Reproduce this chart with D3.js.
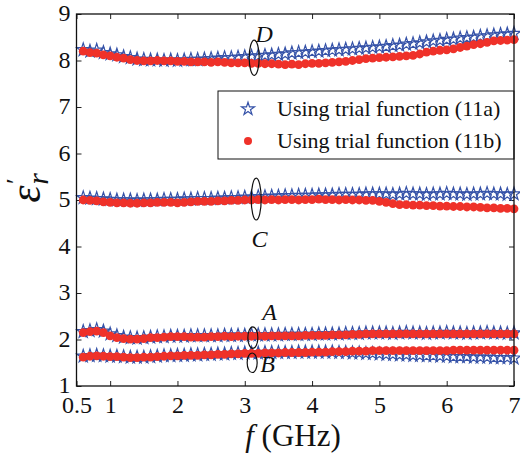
<!DOCTYPE html>
<html>
<head>
<meta charset="utf-8">
<script src="https://cdn.jsdelivr.net/npm/d3@7"></script>
</head>
<body style="margin:0">
<svg id="chart" width="524" height="455"></svg>
<script>
// frequency points (GHz)
const freq = [0.6,0.7,0.8,0.9,1.0,1.1,1.2,1.3,1.4,1.5,1.6,1.7,1.8,1.9,2.0,2.1,2.2,2.3,2.4,2.5,
  2.6,2.7,2.8,2.9,3.0,3.1,3.2,3.3,3.4,3.5,3.6,3.7,3.8,3.9,4.0,4.1,4.2,4.3,4.4,4.5,
  4.6,4.7,4.8,4.9,5.0,5.1,5.2,5.3,5.4,5.5,5.6,5.7,5.8,5.9,6.0,6.1,6.2,6.3,6.4,6.5,
  6.6,6.7,6.8,6.9,7.0];

// trial function (11a) - stars
const dA = [8.23,8.20,8.22,8.17,8.14,8.12,8.08,8.06,8.03,8.02, 8.01,8.01,8.00,8.01,8.00,8.01,8.02,8.02,8.03,8.04,
  8.05,8.06,8.06,8.07,8.08,8.09,8.10,8.11,8.12,8.13, 8.14,8.16,8.17,8.18,8.19,8.20,8.21,8.22,8.23,8.24,
  8.25,8.26,8.27,8.28,8.29,8.30,8.32,8.33,8.35,8.36, 8.38,8.40,8.42,8.43,8.45,8.46,8.48,8.49,8.50,8.52,
  8.53,8.55,8.56,8.57,8.58];
const cA = [5.05,5.04,5.03,5.02,5.01,5.00,5.00,5.00,4.99,5.00, 5.00,5.00,5.01,5.01,5.01,5.02,5.02,5.03,5.03,5.03,
  5.04,5.04,5.05,5.05,5.06,5.06,5.07,5.07,5.08,5.08, 5.09,5.09,5.10,5.10,5.10,5.11,5.11,5.11,5.12,5.12,
  5.12,5.12,5.13,5.13,5.13,5.13,5.12,5.13,5.14,5.13, 5.13,5.12,5.13,5.13,5.14,5.13,5.13,5.12,5.13,5.13,
  5.14,5.13,5.13,5.12,5.13];
const aA = [2.17,2.19,2.21,2.18,2.12,2.08,2.05,2.04,2.03,2.04, 2.05,2.06,2.06,2.07,2.07,2.07,2.08,2.08,2.08,2.08,
  2.08,2.09,2.09,2.09,2.09,2.10,2.10,2.10,2.10,2.10, 2.11,2.11,2.11,2.11,2.11,2.12,2.12,2.12,2.12,2.13,
  2.13,2.13,2.14,2.14,2.14,2.14,2.13,2.14,2.15,2.14, 2.14,2.13,2.14,2.14,2.15,2.14,2.14,2.13,2.14,2.14,
  2.15,2.14,2.14,2.13,2.14];
const bA = [1.64,1.65,1.66,1.65,1.64,1.64,1.63,1.62,1.62,1.62, 1.63,1.64,1.65,1.65,1.66,1.66,1.67,1.67,1.68,1.68,
  1.69,1.69,1.70,1.70,1.71,1.71,1.71,1.72,1.72,1.72, 1.72,1.72,1.73,1.73,1.73,1.73,1.73,1.73,1.72,1.72,
  1.71,1.71,1.70,1.70,1.69,1.68,1.68,1.67,1.67,1.66, 1.66,1.65,1.65,1.64,1.64,1.63,1.63,1.63,1.62,1.62,
  1.62,1.61,1.61,1.61,1.60];

// trial function (11b) - red dots
const dB = [8.20,8.17,8.16,8.12,8.10,8.07,8.05,8.02,8.00,7.99, 7.99,8.00,7.99,7.99,7.98,7.98,7.97,7.97,7.97,7.96,
  7.97,7.96,7.95,7.95,7.95,7.94,7.94,7.93,7.93,7.92, 7.91,7.92,7.91,7.93,7.94,7.94,7.95,7.96,7.97,7.98,
  8.00,8.02,8.04,8.05,8.06,8.07,8.08,8.09,8.10,8.11, 8.14,8.18,8.20,8.22,8.23,8.25,8.28,8.31,8.34,8.36,
  8.39,8.42,8.43,8.44,8.45];
const cB = [5.00,4.99,4.98,4.96,4.95,4.94,4.94,4.93,4.93,4.94, 4.94,4.95,4.95,4.95,4.94,4.95,4.96,4.97,4.97,4.97,
  4.98,4.98,4.99,4.99,5.00,5.00,5.01,5.00,5.01,5.00, 5.01,5.01,5.00,5.01,5.01,5.02,5.01,5.01,5.00,5.01,
  5.00,5.00,4.99,4.99,4.97,4.95,4.92,4.90,4.90,4.89, 4.89,4.88,4.88,4.87,4.87,4.86,4.86,4.85,4.85,4.84,
  4.83,4.83,4.82,4.82,4.81];
const aB = [2.15,2.17,2.18,2.15,2.08,2.04,2.02,2.01,2.01,2.02, 2.04,2.04,2.05,2.06,2.06,2.06,2.05,2.05,2.05,2.06,
  2.06,2.07,2.06,2.07,2.07,2.07,2.08,2.07,2.08,2.08, 2.08,2.08,2.08,2.09,2.09,2.09,2.09,2.10,2.10,2.10,
  2.11,2.11,2.12,2.12,2.12,2.12,2.12,2.12,2.12,2.12, 2.12,2.12,2.12,2.12,2.12,2.12,2.12,2.12,2.12,2.12,
  2.12,2.12,2.12,2.12,2.12];
const bB = [1.62,1.64,1.65,1.64,1.63,1.63,1.62,1.61,1.61,1.62, 1.62,1.63,1.64,1.65,1.65,1.66,1.66,1.66,1.67,1.67,
  1.68,1.68,1.69,1.69,1.70,1.70,1.70,1.71,1.71,1.71, 1.72,1.72,1.72,1.72,1.73,1.73,1.73,1.74,1.74,1.74,
  1.75,1.75,1.75,1.76,1.76,1.76,1.76,1.76,1.76,1.76, 1.76,1.76,1.76,1.76,1.76,1.77,1.77,1.77,1.77,1.77,
  1.77,1.77,1.77,1.77,1.77];

const xTicks = [0.5, 1, 2, 3, 4, 5, 6, 7];
const yTicks = [1, 2, 3, 4, 5, 6, 7, 8, 9];
const legendLabels = ["Using trial function (11a)", "Using trial function (11b)"];

// sample labels with their ellipse (GHz, value, ry in value units)
const marks = [
  { name: "D", cx: 3.14, cy: 8.06, ry: 0.38, lx: 3.29, ly: 8.40 },
  { name: "C", cx: 3.17, cy: 5.02, ry: 0.45, lx: 3.22, ly: 3.99 },
  { name: "A", cx: 3.12, cy: 2.04, ry: 0.23, lx: 3.37, ly: 2.42 },
  { name: "B", cx: 3.11, cy: 1.50, ry: 0.21, lx: 3.34, ly: 1.30 },
];

const serif = "'Liberation Serif'";
const svg = d3.select("#chart").style("font-family", serif);
const m = { left: 76.5, right: 514, top: 14, bottom: 386 };

const x = d3.scaleLinear().domain([0.5, 7]).range([m.left, m.right]);
const y = d3.scaleLinear().domain([1, 9]).range([m.bottom, m.top]);

const starColor = "#3552a8";
const dotColor = "#ef3129";

svg.append("defs").append("clipPath").attr("id", "clip")
  .append("rect")
  .attr("x", m.left - 2).attr("y", m.top)
  .attr("width", m.right - m.left + 8).attr("height", m.bottom - m.top);

// axes, ticks pointing inwards on all four sides
const fontTick = 24;
svg.append("g")
  .attr("transform", `translate(0,${m.bottom})`)
  .call(d3.axisBottom(x).tickValues(xTicks).tickSizeInner(-5).tickSizeOuter(0).tickPadding(10)
    .tickFormat(d => d === 0.5 ? "0.5" : d3.format("d")(d)))
  .call(g => g.attr("font-family", null).selectAll("text").style("font-family", serif).attr("font-size", fontTick).attr("fill", "#111"));
svg.append("g")
  .attr("transform", `translate(0,${m.top})`)
  .call(d3.axisTop(x).tickValues(xTicks).tickSizeInner(-5).tickSizeOuter(0).tickFormat(""));
svg.append("g")
  .attr("transform", `translate(${m.left},0)`)
  .call(d3.axisLeft(y).tickValues(yTicks).tickSizeInner(-5).tickSizeOuter(0).tickPadding(6))
  .call(g => g.attr("font-family", null).selectAll("text").style("font-family", serif)
    .attr("font-size", fontTick).attr("dy", "0.28em").attr("fill", "#111"));
svg.append("g")
  .attr("transform", `translate(${m.right},0)`)
  .call(d3.axisRight(y).tickValues(yTicks).tickSizeInner(-5).tickSizeOuter(0).tickFormat(""));
svg.selectAll(".domain").remove();
svg.selectAll(".tick line").attr("stroke", "#222");

// plotted series
const plot = svg.append("g").attr("clip-path", "url(#clip)");
const star = d3.symbol().type(d3.symbolStar).size(52);

const starSeries = [dA, cA, aA, bA];
const dotSeries = [dB, cB, aB, bB];

starSeries.forEach(vals => {
  plot.append("g").selectAll("path")
    .data(vals)
    .join("path")
    .attr("d", star)
    .attr("transform", (d, i) => `translate(${x(freq[i])},${y(d)})`)
    .attr("fill", "none")
    .attr("stroke", starColor)
    .attr("stroke-width", 1.2);
});

dotSeries.forEach(vals => {
  plot.append("g").selectAll("circle")
    .data(vals)
    .join("circle")
    .attr("cx", (d, i) => x(freq[i]))
    .attr("cy", d => y(d))
    .attr("r", 4.4)
    .attr("fill", dotColor);
});

// ellipses and letters
marks.forEach(k => {
  svg.append("ellipse")
    .attr("cx", x(k.cx)).attr("cy", y(k.cy))
    .attr("rx", 5).attr("ry", y(0) - y(k.ry))
    .attr("fill", "none").attr("stroke", "#111").attr("stroke-width", 1.2);
  svg.append("text")
    .attr("x", x(k.lx)).attr("y", y(k.ly))
    .attr("text-anchor", "middle")
    .style("font-family", serif)
    .attr("font-size", 24).attr("font-style", "italic")
    .attr("fill", "#111")
    .text(k.name);
});

// legend
const lg = svg.append("g");
lg.append("rect")
  .attr("x", 218).attr("y", 91).attr("width", 296).attr("height", 68)
  .attr("fill", "#fff").attr("stroke", "#111").attr("stroke-width", 1);
legendLabels.forEach((t, i) => {
  const cy = 109 + i * 32;
  if (i === 0) {
    lg.append("path").attr("d", star).attr("transform", `translate(248,${cy})`)
      .attr("fill", "none").attr("stroke", starColor).attr("stroke-width", 1.2);
  } else {
    lg.append("circle").attr("cx", 248).attr("cy", cy).attr("r", 4).attr("fill", dotColor);
  }
  lg.append("text").attr("x", 277).attr("y", cy + 7)
    .style("font-family", serif)
    .attr("font-size", 22).attr("fill", "#111").text(t);
});

// frame
svg.append("rect")
  .attr("x", m.left).attr("y", m.top)
  .attr("width", m.right - m.left).attr("height", m.bottom - m.top)
  .attr("fill", "none").attr("stroke", "#111").attr("stroke-width", 1.3);

// axis titles
const xt = svg.append("text")
  .attr("x", 293).attr("y", 446).attr("text-anchor", "middle")
  .style("font-family", serif)
  .attr("font-size", 31).attr("fill", "#111");
xt.append("tspan").attr("font-style", "italic").text("f");
xt.append("tspan").text(" (GHz)");

const yt = svg.append("text")
  .attr("transform", "translate(40,188) rotate(-90)")
  .attr("text-anchor", "middle")
  .style("font-family", serif)
  .attr("font-size", 44).attr("font-style", "italic").attr("fill", "#111");
yt.append("tspan").text("ε");
yt.append("tspan").attr("font-size", 26).attr("dy", -16).text("′");
yt.append("tspan").attr("font-size", 30).attr("dx", -5).attr("dy", 24).text("r");
</script>
</body>
</html>
